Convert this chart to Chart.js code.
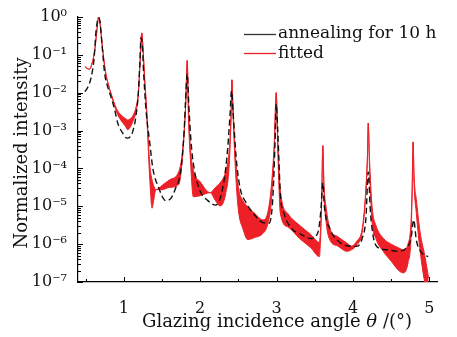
<!DOCTYPE html>
<html>
<head>
<meta charset="utf-8">
<script src="https://cdn.jsdelivr.net/npm/chart.js@4.4.1/dist/chart.umd.min.js"></script>
<style>
  html, body { margin: 0; padding: 0; background: #fff; }
  #chart { display: block; }
</style>
</head>
<body>
<canvas id="chart" width="457" height="337"></canvas>
<script>
// measured reflectivity, annealed 10 h (black dashed)
const measuredAngle = [
  0.49, 0.53, 0.575, 0.61, 0.635, 0.655, 0.67, 0.69, 0.715, 0.75,
  0.79, 0.83, 0.88, 0.92, 0.98, 1.04, 1.08, 1.12, 1.16, 1.19,
  1.21, 1.225, 1.24, 1.26, 1.29, 1.34, 1.38, 1.45, 1.55, 1.62,
  1.67, 1.75, 1.79, 1.815, 1.83, 1.85, 1.88, 1.92, 2.0, 2.1,
  2.2, 2.28, 2.35, 2.39, 2.41, 2.43, 2.47, 2.52, 2.6, 2.7,
  2.82, 2.9, 2.95, 2.98, 2.995, 3.015, 3.05, 3.1, 3.2, 3.3,
  3.45, 3.54, 3.58, 3.605, 3.625, 3.7, 3.83, 3.95, 4.05, 4.12,
  4.17, 4.2, 4.23, 4.31, 4.45, 4.57, 4.7, 4.76, 4.795, 4.83,
  4.9, 4.985
];
const measuredIntensity = [
  1.07e-2, 1.41e-2, 2.69e-2, 7.94e-2, 3.98e-1, 7.94e-1, 9.55e-1, 7.08e-1, 1.78e-1, 3.16e-2,
  1.41e-2, 7.94e-3, 3.55e-3, 1.58e-3, 8.91e-4, 6.31e-4, 6.76e-4, 1.0e-3, 2.51e-3, 1.0e-2,
  6.31e-2, 2.82e-1, 2.0e-1, 3.16e-2, 3.55e-3, 4.68e-4, 1.0e-4, 3.31e-5, 1.41e-5, 1.66e-5,
  2.75e-5, 1.0e-4, 1.0e-3, 1.26e-2, 3.16e-2, 5.01e-3, 5.01e-4, 1.0e-4, 2.51e-5, 1.41e-5,
  1.07e-5, 2.24e-5, 2.0e-4, 2.51e-3, 1.12e-2, 3.16e-3, 2.0e-4, 3.16e-5, 1.26e-5, 6.31e-6,
  3.72e-6, 3.55e-6, 1.58e-5, 5.01e-4, 5.01e-3, 1.0e-3, 2.0e-5, 6.31e-6, 2.51e-6, 1.91e-6,
  1.41e-6, 2.0e-6, 7.94e-6, 4.17e-5, 1.0e-5, 2.51e-6, 1.10e-6, 8.91e-7, 8.71e-7, 1.41e-6,
  5.01e-6, 8.13e-5, 6.31e-6, 8.71e-7, 7.08e-7, 6.46e-7, 7.94e-7, 1.41e-6, 4.37e-6, 1.26e-6,
  5.89e-7, 4.68e-7
];

// fitted curve oscillates densely, so it shows as a band between two envelopes
const fittedAngle = [
  0.49, 0.52, 0.55, 0.58, 0.62, 0.645, 0.67, 0.69, 0.72, 0.76,
  0.8, 0.83, 0.88, 0.92, 0.98, 1.02, 1.05, 1.08, 1.12, 1.16,
  1.19, 1.21, 1.235, 1.25, 1.27, 1.3, 1.34, 1.37, 1.39, 1.42,
  1.5, 1.6, 1.72, 1.77, 1.81, 1.83, 1.845, 1.87, 1.91, 2.0,
  2.13, 2.2, 2.26, 2.33, 2.38, 2.405, 2.415, 2.43, 2.46, 2.5,
  2.56, 2.62, 2.72, 2.82, 2.88, 2.93, 2.97, 2.995, 3.015, 3.05,
  3.15, 3.3, 3.45, 3.56, 3.59, 3.605, 3.62, 3.65, 3.7, 3.8,
  3.92, 3.98, 4.05, 4.12, 4.16, 4.19, 4.2, 4.215, 4.25, 4.3,
  4.4, 4.5, 4.6, 4.66, 4.72, 4.76, 4.775, 4.787, 4.8, 4.83,
  4.88, 4.94, 4.99
];
const fittedUpper = [
  4.90e-2, 4.37e-2, 4.17e-2, 5.62e-2, 1.35e-1, 3.98e-1, 1.0, 6.31e-1, 1.58e-1, 3.55e-2,
  1.58e-2, 1.0e-2, 5.01e-3, 3.31e-3, 2.40e-3, 2.09e-3, 1.91e-3, 2.0e-3, 2.51e-3, 4.17e-3,
  1.0e-2, 5.01e-2, 3.80e-1, 1.58e-1, 3.16e-2, 3.55e-3, 1.26e-4, 5.01e-5, 3.55e-5, 2.75e-5,
  3.55e-5, 5.01e-5, 8.32e-5, 3.16e-4, 5.01e-3, 7.08e-2, 5.01e-3, 3.98e-4, 8.91e-5, 4.47e-5,
  2.29e-5, 3.16e-5, 4.17e-5, 7.94e-5, 3.16e-4, 3.16e-3, 2.19e-2, 3.98e-3, 2.51e-4, 3.16e-5,
  1.41e-5, 1.0e-5, 6.31e-6, 4.37e-6, 6.31e-6, 3.16e-5, 5.01e-4, 1.0e-2, 6.31e-4, 2.51e-5,
  6.31e-6, 3.16e-6, 1.78e-6, 1.12e-6, 1.58e-5, 3.98e-4, 3.98e-5, 8.91e-6, 2.51e-6, 1.58e-6,
  1.07e-6, 8.91e-7, 1.20e-6, 2.51e-6, 1.58e-5, 2.51e-4, 1.58e-3, 2.0e-4, 1.0e-5, 3.16e-6,
  1.41e-6, 1.0e-6, 7.94e-7, 7.08e-7, 1.0e-6, 3.98e-6, 3.16e-5, 5.01e-4, 6.31e-5, 1.48e-5,
  2.0e-6, 5.01e-7, 1.26e-7
];
const fittedLower = [
  4.90e-2, 4.37e-2, 4.17e-2, 5.62e-2, 1.35e-1, 3.98e-1, 1.0, 6.31e-1, 1.58e-1, 3.55e-2,
  1.58e-2, 9.55e-3, 4.37e-3, 2.63e-3, 1.66e-3, 1.32e-3, 1.05e-3, 1.20e-3, 1.78e-3, 3.16e-3,
  8.91e-3, 5.01e-2, 3.80e-1, 1.58e-1, 2.51e-2, 2.51e-3, 5.01e-5, 8.91e-6, 1.41e-5, 2.75e-5,
  2.75e-5, 3.16e-5, 3.80e-5, 2.24e-4, 5.01e-3, 7.08e-2, 2.51e-3, 2.0e-4, 1.78e-5, 1.91e-5,
  2.29e-5, 1.41e-5, 1.02e-5, 2.0e-5, 1.26e-4, 2.51e-3, 2.19e-2, 2.51e-3, 1.0e-4, 7.94e-6,
  2.51e-6, 1.32e-6, 1.51e-6, 1.91e-6, 3.16e-6, 1.26e-5, 3.16e-4, 1.0e-2, 3.16e-4, 6.31e-6,
  2.82e-6, 1.41e-6, 7.94e-7, 4.68e-7, 1.26e-5, 3.98e-4, 2.51e-5, 3.55e-6, 1.26e-6, 8.91e-7,
  6.46e-7, 7.08e-7, 9.55e-7, 2.0e-6, 1.26e-5, 2.0e-4, 1.58e-3, 1.26e-4, 3.98e-6, 1.41e-6,
  6.31e-7, 3.55e-7, 2.0e-7, 1.74e-7, 3.16e-7, 1.58e-6, 2.51e-5, 5.01e-4, 3.98e-5, 6.31e-6,
  6.31e-7, 1.0e-7, 5.01e-8
];

const xTickValues = [1, 2, 3, 4, 5];
const yTickValues = [1e-7, 1e-6, 1e-5, 1e-4, 1e-3, 1e-2, 1e-1, 1];
const yTickLabels = ["10⁻⁷", "10⁻⁶", "10⁻⁵", "10⁻⁴", "10⁻³", "10⁻²", "10⁻¹", "10⁰"];
const legendLabels = ["annealing for 10 h", "fitted"];

const SERIF = "'DejaVu Serif', 'Liberation Serif', serif";
const RED = "#ed2027";

function toPoints(xs, ys) {
  return xs.map((x, i) => ({ x: x, y: ys[i] }));
}

// inward ticks, axis titles and the legend
const decor = {
  id: "decor",
  afterDraw(chart) {
    const { ctx, chartArea: area, scales: { x, y } } = chart;
    ctx.save();
    ctx.strokeStyle = "#000";
    ctx.lineWidth = 1;
    ctx.beginPath();
    for (let v = 0.5; v <= 5; v += 0.5) {
      const px = Math.round(x.getPixelForValue(v)) + 0.5;
      const len = Number.isInteger(v) ? 5 : 3;
      ctx.moveTo(px, area.bottom);
      ctx.lineTo(px, area.bottom - len);
    }
    for (let e = -7; e <= 0; e++) {
      for (let k = 1; k <= 9; k++) {
        const v = k * Math.pow(10, e);
        if (v > 1.0001) break;
        const py = Math.round(y.getPixelForValue(v)) + 0.5;
        ctx.moveTo(area.left, py);
        ctx.lineTo(area.left + (k === 1 ? 5 : 3), py);
      }
    }
    ctx.stroke();

    ctx.fillStyle = "#111";
    ctx.textBaseline = "middle";

    // x title, theta in italic
    const parts = [["Glazing incidence angle ", "18px " + SERIF], ["θ", "italic 18px " + SERIF], [" /(°)", "18px " + SERIF]];
    let total = 0;
    parts.forEach(p => { ctx.font = p[1]; total += ctx.measureText(p[0]).width; });
    let tx = 277 - total / 2;
    ctx.textAlign = "left";
    parts.forEach(p => { ctx.font = p[1]; ctx.fillText(p[0], tx, 322); tx += ctx.measureText(p[0]).width; });

    // y title
    ctx.save();
    ctx.translate(22, 153);
    ctx.rotate(-Math.PI / 2);
    ctx.textAlign = "center";
    ctx.font = "18px " + SERIF;
    ctx.fillText("Normalized intensity", 0, 0);
    ctx.restore();

    // legend
    const colors = ["#333", RED];
    ctx.font = "17px " + SERIF;
    ctx.textAlign = "left";
    ctx.textBaseline = "alphabetic";
    legendLabels.forEach((label, i) => {
      const ly = 34.5 + i * 19;
      ctx.strokeStyle = colors[i];
      ctx.lineWidth = 1.3;
      ctx.beginPath();
      ctx.moveTo(244, ly);
      ctx.lineTo(276, ly);
      ctx.stroke();
      ctx.fillStyle = "#111";
      ctx.fillText(label, 278, 37.5 + i * 20);
    });
    ctx.restore();
  }
};

new Chart(document.getElementById("chart"), {
  type: "line",
  data: {
    datasets: [
      {
        label: legendLabels[0],
        data: toPoints(measuredAngle, measuredIntensity),
        borderColor: "#111",
        borderWidth: 1.4,
        borderDash: [6, 3.5],
        pointRadius: 0,
        fill: false,
        cubicInterpolationMode: "monotone"
      },
      {
        label: legendLabels[1],
        data: toPoints(fittedAngle, fittedUpper),
        borderColor: RED,
        backgroundColor: RED,
        borderWidth: 1,
        pointRadius: 0,
        fill: "+1",
        cubicInterpolationMode: "monotone"
      },
      {
        label: "fitted lower",
        data: toPoints(fittedAngle, fittedLower),
        borderColor: RED,
        borderWidth: 1,
        pointRadius: 0,
        fill: false,
        cubicInterpolationMode: "monotone"
      }
    ]
  },
  options: {
    responsive: false,
    animation: false,
    layout: { padding: { top: 17, right: 20, left: 0, bottom: 0 } },
    plugins: { legend: { display: false }, tooltip: { enabled: false } },
    scales: {
      x: {
        type: "linear",
        min: 0.4,
        max: 5.1,
        afterBuildTicks: s => { s.ticks = xTickValues.map(v => ({ value: v })); },
        afterFit: s => { s.height = 55; },
        grid: { display: false },
        border: { display: true, color: "#000", width: 1.2 },
        ticks: { font: { family: SERIF, size: 16 }, color: "#111", padding: 9, maxRotation: 0, autoSkip: false }
      },
      y: {
        type: "logarithmic",
        min: 1e-7,
        max: 1,
        afterBuildTicks: s => { s.ticks = yTickValues.map(v => ({ value: v })); },
        afterFit: s => { s.width = 78; },
        grid: { display: false },
        border: { display: true, color: "#000", width: 1.2 },
        ticks: {
          font: { family: SERIF, size: 16 },
          color: "#111",
          padding: 3,
          autoSkip: false,
          callback: (v, i) => yTickLabels[i]
        }
      }
    }
  },
  plugins: [decor]
});
</script>
</body>
</html>
